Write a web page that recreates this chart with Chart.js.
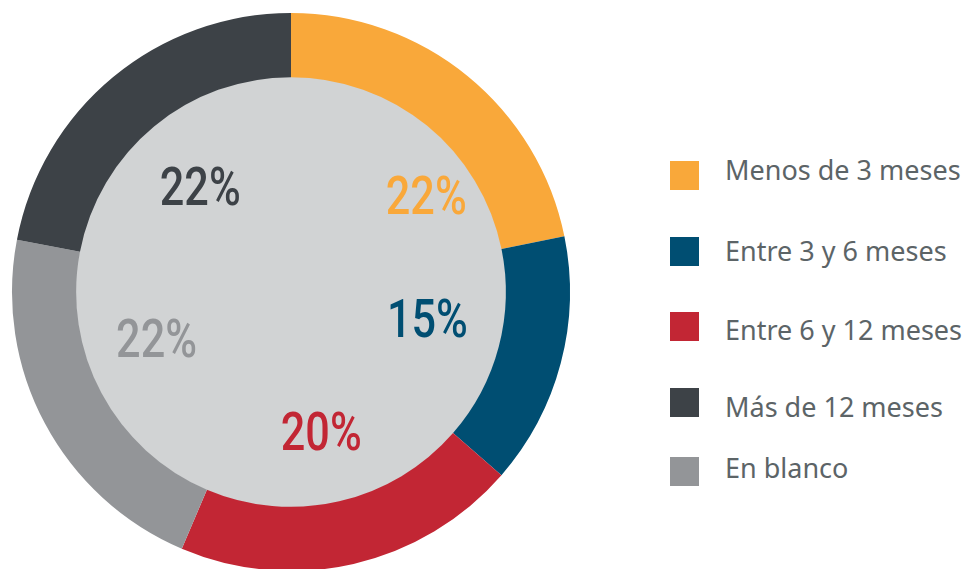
<!DOCTYPE html>
<html>
<head>
<meta charset="utf-8">
<script src="https://cdn.jsdelivr.net/npm/chart.js@4/dist/chart.umd.min.js"></script>
<style>
  html, body { margin: 0; padding: 0; background: #ffffff; }
  #wrap { position: relative; width: 971px; height: 569px; overflow: hidden; background: #fff; }
  #chartBox { position: absolute; left: 0; top: 0; width: 582px; height: 584px; }
  #legend { position: absolute; left: 670px; top: 0; width: 301px; height: 569px;
            font-family: "Noto Sans", "Open Sans", sans-serif; font-size: 27px; color: #5c6467; }
  .sw { position: absolute; left: 0; width: 29px; height: 29px; }
  .tx { position: absolute; left: 55px; line-height: 1; white-space: nowrap; }
</style>
</head>
<body>
<div id="wrap">
  <div id="chartBox"><canvas id="c" width="582" height="584"></canvas></div>
  <div id="legend"></div>
</div>
<script>
// ---- data ----
const categories = ["Menos de 3 meses", "Entre 3 y 6 meses", "Entre 6 y 12 meses", "En blanco", "Más de 12 meses"];
const values = [21.8, 14.6, 20.0, 21.6, 22.0];
const colors = ["#F9A83A", "#004E72", "#C22634", "#939598", "#3D4247"];
// legend order as shown on the right
const legendOrder = ["Menos de 3 meses", "Entre 3 y 6 meses", "Entre 6 y 12 meses", "Más de 12 meses", "En blanco"];

// ---- style / placement (not data) ----
const legendBoxTops = [161, 237, 312, 388, 457];
const legendTextMid = [170, 251, 330.5, 407, 468.5];
const labelAngleShift = [16, -2.7, 1, 8, -2];      // degrees, relative to slice mid-angle
const labelRadiusFrac = [0.59, 0.50, 0.523, 0.513, 0.49]; // of outer radius
const centerFill = "#D1D3D4";

const centerPlugin = {
  id: 'centerFill',
  beforeDatasetsDraw(chart) {
    const arc = chart.getDatasetMeta(0).data[0];
    if (!arc) return;
    const ctx = chart.ctx;
    ctx.save();
    ctx.beginPath();
    ctx.arc(arc.x, arc.y, arc.innerRadius + 0.5, 0, Math.PI * 2);
    ctx.fillStyle = centerFill;
    ctx.fill();
    ctx.restore();
  },
  afterDatasetsDraw(chart) {
    const meta = chart.getDatasetMeta(0);
    const ctx = chart.ctx;
    ctx.save();
    ctx.font = '500 54px Roboto, "Noto Sans", sans-serif';
    ctx.textAlign = 'center';
    ctx.textBaseline = 'middle';
    meta.data.forEach((arc, i) => {
      const mid = (arc.startAngle + arc.endAngle) / 2 + labelAngleShift[i] * Math.PI / 180;
      const r = arc.outerRadius * labelRadiusFrac[i];
      const x = arc.x + Math.cos(mid) * r;
      const y = arc.y + Math.sin(mid) * r;
      ctx.fillStyle = colors[i];
      ctx.save();
      ctx.translate(x, y);
      ctx.scale(0.8, 1);
      ctx.fillText(Math.round(values[i]) + '%', 0, 2);
      ctx.restore();
    });
    ctx.restore();
  }
};

new Chart(document.getElementById('c'), {
  type: 'doughnut',
  data: {
    labels: categories,
    datasets: [{
      data: values,
      backgroundColor: colors,
      borderWidth: 0,
      hoverOffset: 0
    }]
  },
  options: {
    responsive: false,
    animation: false,
    devicePixelRatio: 1,
    cutout: '77%',
    rotation: 0,
    layout: { padding: { left: 12, right: 12, top: 13, bottom: 13 } },
    plugins: {
      legend: { display: false },
      tooltip: { enabled: false }
    }
  },
  plugins: [centerPlugin]
});

// HTML legend built from the same arrays
const lg = document.getElementById('legend');
legendOrder.forEach((name, k) => {
  const i = categories.indexOf(name);
  const sw = document.createElement('div');
  sw.className = 'sw';
  sw.style.top = legendBoxTops[k] + 'px';
  sw.style.background = colors[i];
  const tx = document.createElement('div');
  tx.className = 'tx';
  tx.style.top = (legendTextMid[k] - 14.4) + 'px';
  tx.textContent = name;
  lg.appendChild(sw); lg.appendChild(tx);
});
</script>
</body>
</html>
